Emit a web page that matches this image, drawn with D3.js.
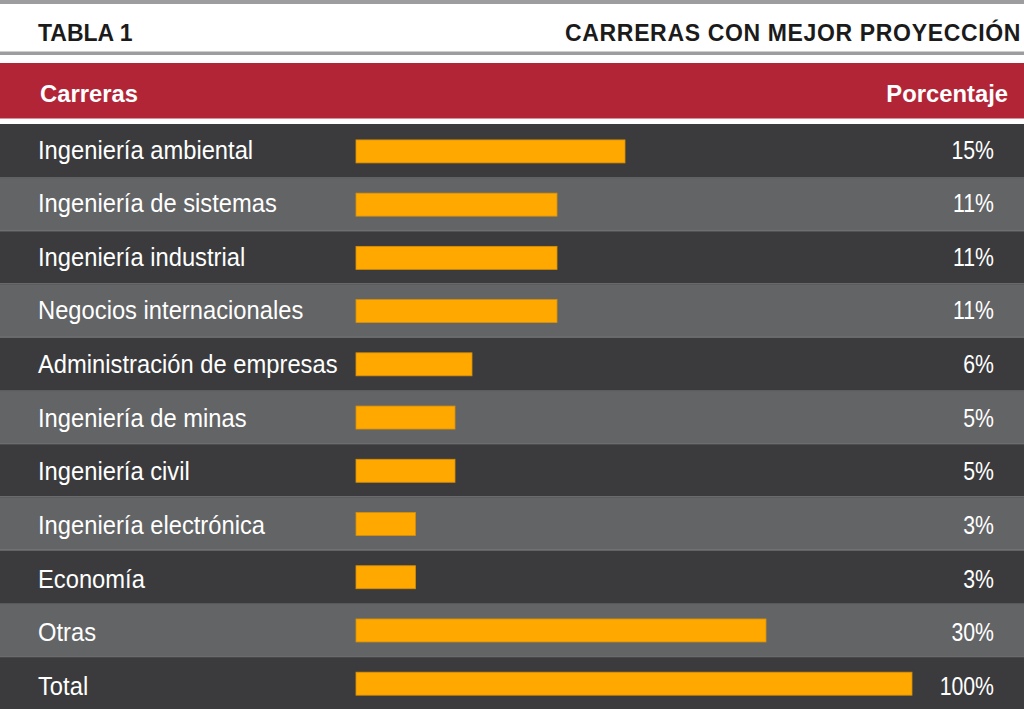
<!DOCTYPE html>
<html>
<head>
<meta charset="utf-8">
<script src="https://cdn.jsdelivr.net/npm/d3@7"></script>
<style>
  body { margin: 0; background: #fff; }
  svg { display: block; }
</style>
</head>
<body>
<svg></svg>
<script>
// DATA ////////////////////////////////////////////////////////////////////////
const carreras = [
  'Ingeniería ambiental',
  'Ingeniería de sistemas',
  'Ingeniería industrial',
  'Negocios internacionales',
  'Administración de empresas',
  'Ingeniería de minas',
  'Ingeniería civil',
  'Ingeniería electrónica',
  'Economía',
  'Otras',
  'Total'
];
const porcentajes = [15, 11, 11, 11, 6, 5, 5, 3, 3, 30, 100];
const titulo = 'TABLA 1';
const subtitulo = 'CARRERAS CON MEJOR PROYECCIÓN';
const columnas = ['Carreras', 'Porcentaje'];

// the original bars are not drawn to a linear scale, so use a few stops
const escalaStops = [0, 5, 15, 30, 100];

// SET PARAMETERS //////////////////////////////////////////////////////////////
const W = 1024, H = 709;
const svg = d3.select('svg').attr('width', W).attr('height', H);
const font = "'Liberation Sans', Arial, Helvetica, sans-serif";

const data = carreras.map((c, i) => ({ carrera: c, valor: porcentajes[i] }));

// scales
const y = d3.scaleBand().domain(carreras).range([124, H + 0.5]).padding(0);
const x = d3.scaleLinear()
  .domain(escalaStops)
  .range([356, 455, 625, 766, 912]);

// DRAW ////////////////////////////////////////////////////////////////////////
// top strip
svg.append('rect').attr('x', 0).attr('y', 0).attr('width', W).attr('height', 4).attr('fill', '#9d9d9f');
svg.append('rect').attr('x', 0).attr('y', 51.5).attr('width', W).attr('height', 3.5).attr('fill', '#9d9d9f');

svg.append('text')
  .attr('x', 38).attr('y', 41)
  .attr('font-family', font).attr('font-weight', 'bold').attr('font-size', 23)
  .attr('fill', '#1b1b1b')
  .text(titulo);

svg.append('text')
  .attr('x', 1021).attr('y', 41)
  .attr('text-anchor', 'end')
  .attr('font-family', font).attr('font-weight', 'bold').attr('font-size', 23)
  .attr('letter-spacing', 0.65)
  .attr('fill', '#1b1b1b')
  .text(subtitulo);

// red header
svg.append('rect').attr('x', 0).attr('y', 63).attr('width', W).attr('height', 55.5).attr('fill', '#b22537');

svg.append('text')
  .attr('x', 40).attr('y', 102)
  .attr('font-family', font).attr('font-weight', 'bold').attr('font-size', 23.8)
  .attr('fill', '#fff')
  .text(columnas[0]);

svg.append('text')
  .attr('x', 1008).attr('y', 102)
  .attr('text-anchor', 'end')
  .attr('font-family', font).attr('font-weight', 'bold').attr('font-size', 23.8)
  .attr('fill', '#fff')
  .text(columnas[1]);

// rows
const rows = svg.selectAll('.row')
  .data(data)
  .enter()
  .append('g')
  .attr('class', 'row')
  .attr('transform', d => `translate(0, ${y(d.carrera)})`);

rows.append('rect')
  .attr('x', 0)
  .attr('width', W)
  .attr('height', y.bandwidth())
  .attr('fill', (d, i) => i % 2 === 0 ? '#3b3b3d' : '#636466');

rows.append('rect')
  .attr('x', 0)
  .attr('width', W)
  .attr('height', 1)
  .attr('fill', (d, i) => i === 0 ? 'none' : (i % 2 === 0 ? '#6d6e70' : '#58595b'));

// bars
const barH = 23;
rows.append('rect')
  .attr('class', 'bar')
  .attr('x', x(0))
  .attr('y', y.bandwidth() / 2 - barH / 2 + 0.8)
  .attr('width', d => x(d.valor) - x(0))
  .attr('height', barH)
  .attr('fill', '#fea800')
  .attr('stroke', '#d98f06')
  .attr('stroke-width', 0.8);

// labels
rows.append('text')
  .attr('transform', (d, i) => `translate(38, ${y.bandwidth() / 2 + 8 + i * 0.4}) scale(0.95, 1)`)
  .attr('font-family', font).attr('font-size', 25)
  .attr('fill', '#fff')
  .text(d => d.carrera);

rows.append('text')
  .attr('transform', (d, i) => `translate(994, ${y.bandwidth() / 2 + 8 + i * 0.4}) scale(0.85, 1)`)
  .attr('text-anchor', 'end')
  .attr('font-family', font).attr('font-size', 25)
  .attr('fill', '#fff')
  .text(d => d.valor + '%');
</script>
</body>
</html>
